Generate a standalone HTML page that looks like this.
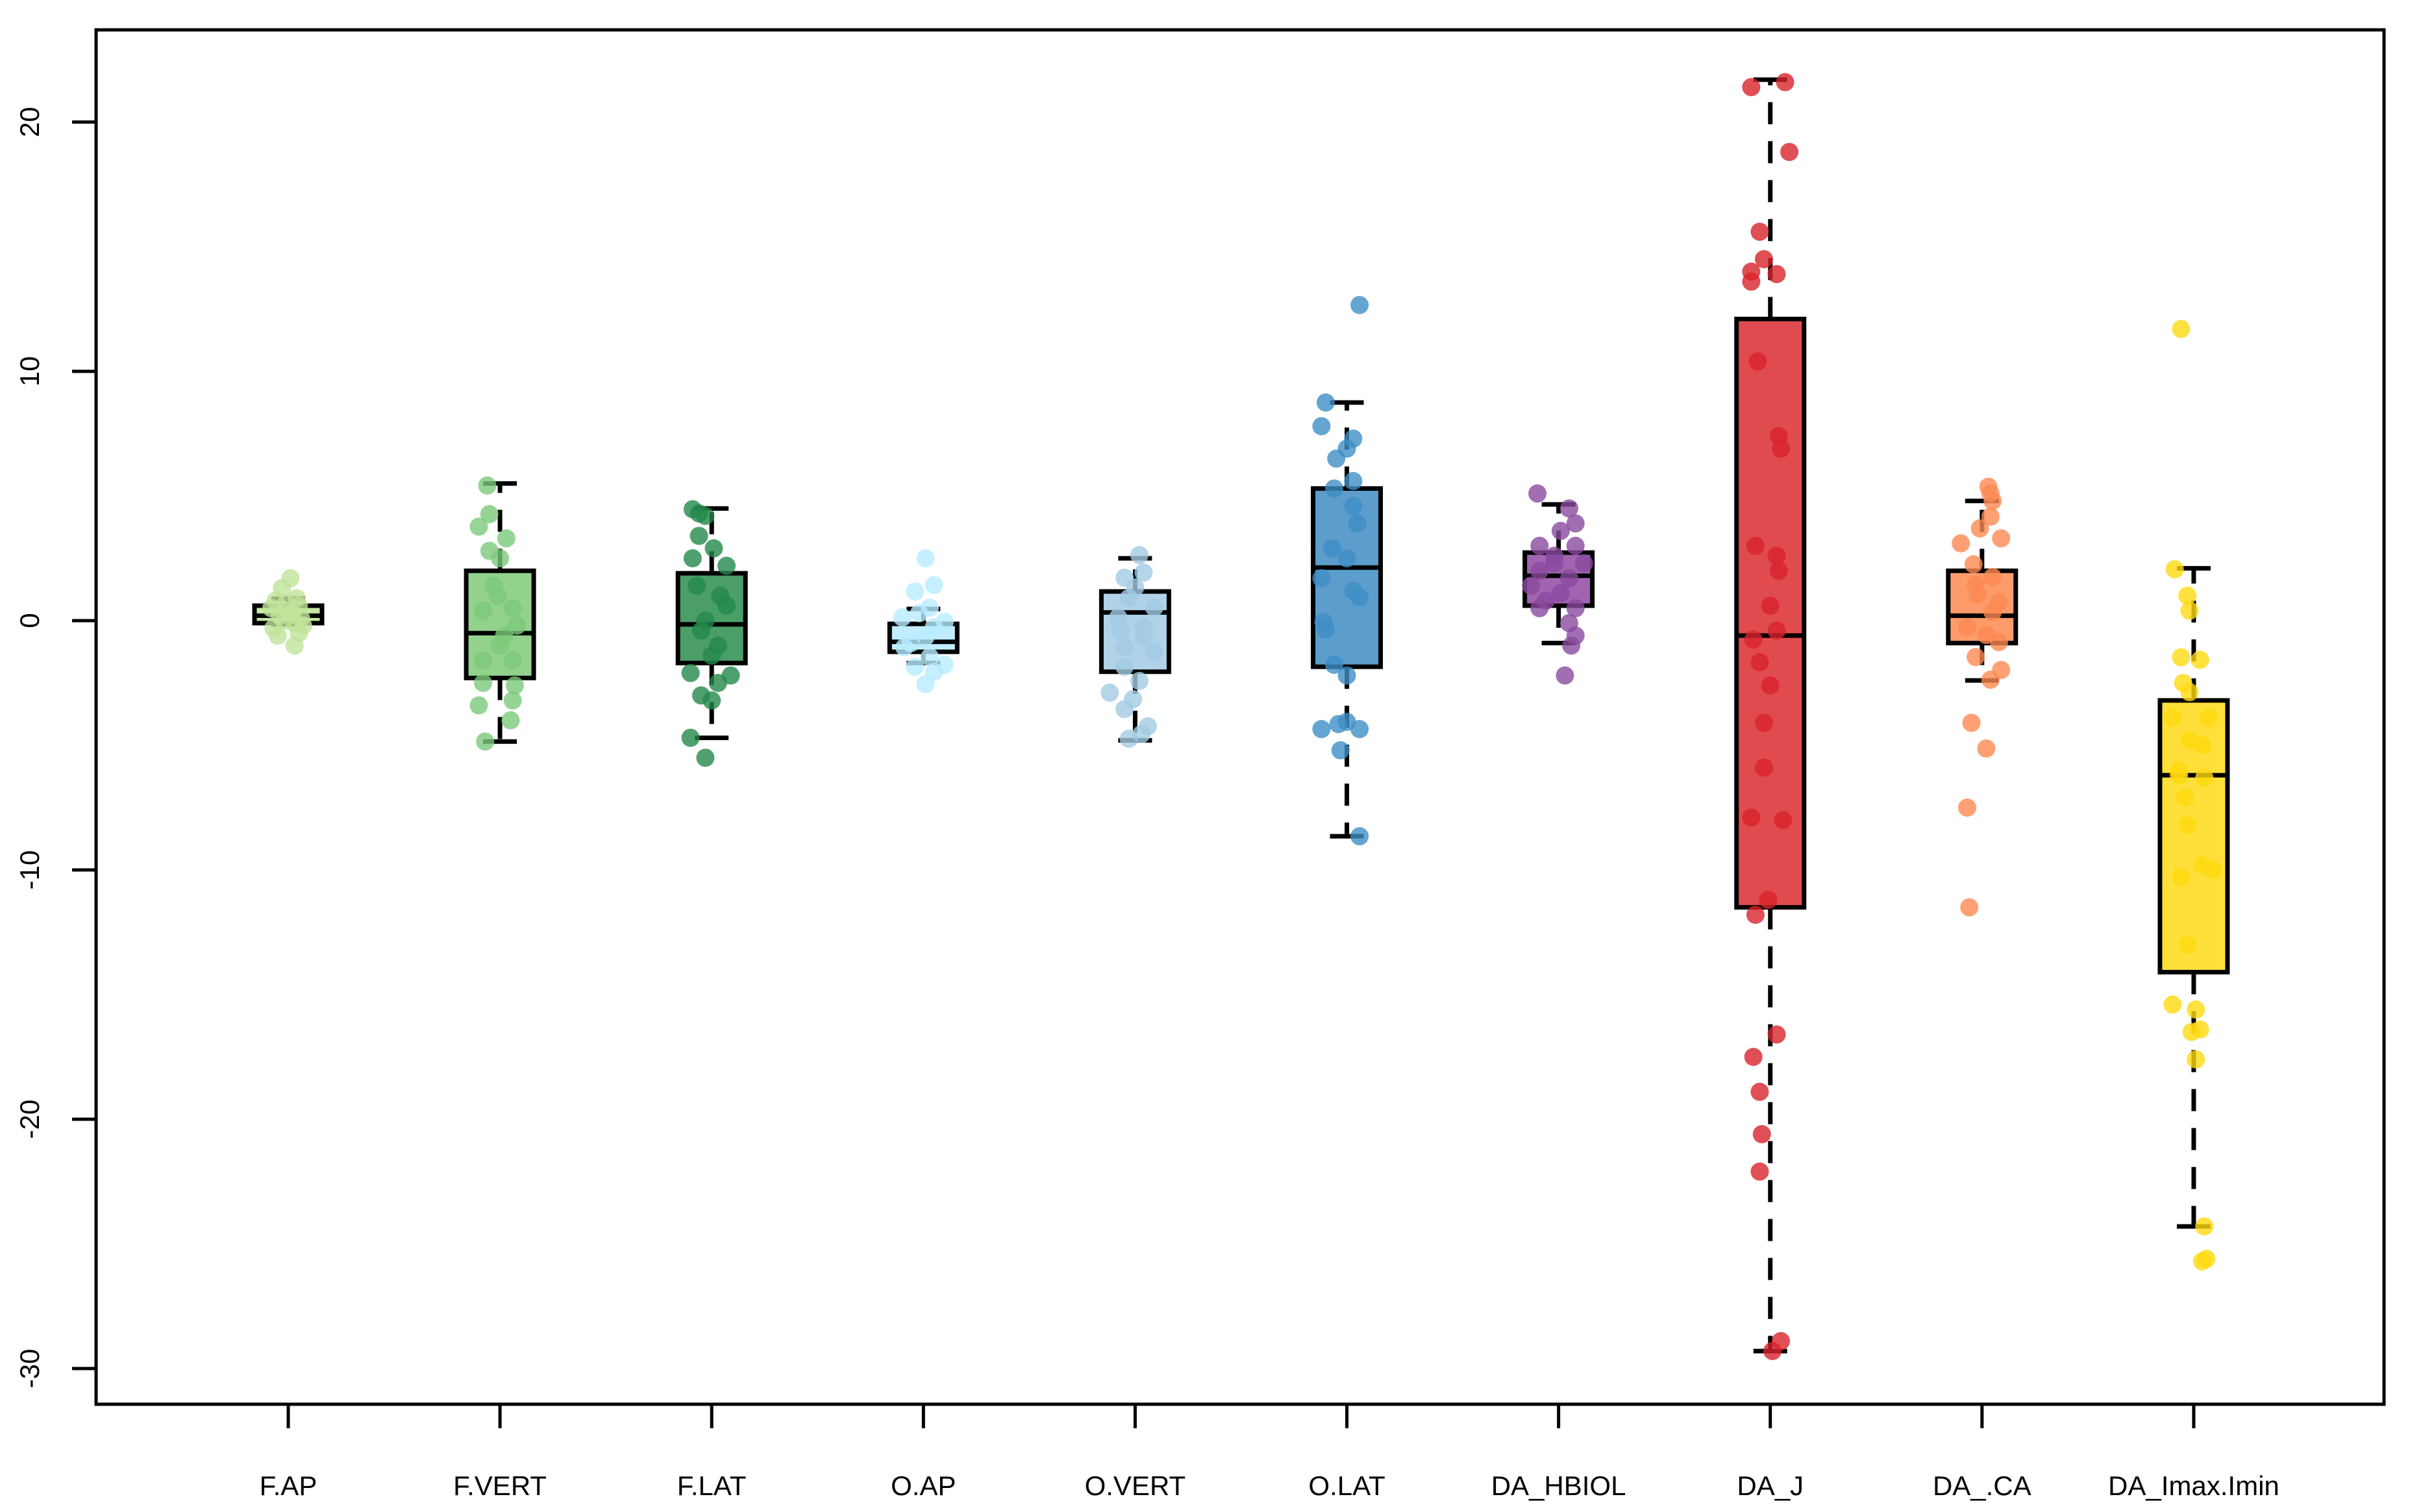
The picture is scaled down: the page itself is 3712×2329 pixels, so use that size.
<!DOCTYPE html>
<html><head><meta charset="utf-8"><style>
html,body{margin:0;padding:0;background:#fff;}
svg{display:block;}
text{font-family:"Liberation Sans",sans-serif;fill:#000;}
</style></head><body>
<svg id="chart" width="3712" height="2329" viewBox="0 0 3712 2329" xmlns="http://www.w3.org/2000/svg">
<rect x="148" y="46" width="3524" height="2117" fill="none" stroke="#000" stroke-width="5"/>
<g id="yaxis"></g>
<g id="xaxis"></g>
<g id="boxes"></g>
<g id="points"></g>
</svg>
<script>
const categories = ["F.AP","F.VERT","F.LAT","O.AP","O.VERT","O.LAT","DA_HBIOL","DA_J","DA_.CA","DA_Imax.Imin"];
const pointColors = ["#bfe39a","#7cc97a","#23884a","#b8ecff","#a2cbe2","#3f8ec6","#8a4a9f","#d8232a","#fd8a52","#ffd90f"];
const boxColors = ["#c7e8a3","#92d28d","#4b9e67","#c0eeff","#b0d3e8","#5c9dcb","#a064b0","#e04b4f","#fd9c6a","#ffe03a"];
const whiskerLow = [-0.15,-4.85,-4.7,-1.7,-4.8,-8.65,-0.9,-29.3,-2.4,-24.3];
const q1 = [-0.1,-2.3,-1.7,-1.25,-2.05,-1.85,0.6,-11.5,-0.9,-14.1];
const median = [0.2,-0.5,-0.15,-0.85,0.33,2.13,1.8,-0.6,0.2,-6.2];
const q3 = [0.6,2.0,1.9,-0.13,1.17,5.3,2.73,12.1,2.0,-3.2];
const whiskerHigh = [0.88,5.5,4.5,0.47,2.5,8.75,4.66,21.7,4.8,2.1];
const yTicks = [20,10,0,-10,-20,-30];
const yTickLabels = ["20","10","0","-10","-20","-30"];
const pts0 = [1.7,1.3,0.9,0.8,0.6,0.5,0.3,0.2,0.1,0,-0.1,-0.3,-0.5,-0.6,-1.0,0.4,0.7,-0.2];
const jit0 = [0.01,-0.03,0.04,-0.06,0.05,-0.08,0.02,-0.04,0.06,-0.02,0.03,-0.07,0.05,-0.05,0.03,0.0,-0.01,0.07];
const pts1 = [5.42,4.27,3.77,3.3,2.8,2.5,1.4,0.4,0.5,-0.2,-1.0,-1.6,-1.6,-2.5,-2.6,-3.2,-3.4,-4.0,-4.85,-0.6,1.0];
const jit1 = [-0.06,-0.05,-0.1,0.03,-0.05,0.0,-0.03,-0.08,0.06,0.08,0.0,-0.08,0.06,-0.08,0.07,0.06,-0.1,0.05,-0.07,0.02,-0.01];
const pts2 = [4.47,4.2,3.4,2.9,2.5,2.2,1.4,0.6,0,-0.4,-1.0,-1.4,-2.1,-2.2,-2.5,-3.0,-3.2,-4.7,-5.5,4.3,1.0];
const jit2 = [-0.09,-0.03,-0.06,0.01,-0.09,0.07,-0.07,0.07,-0.03,-0.05,0.03,0.0,-0.1,0.09,0.03,-0.05,0.0,-0.1,-0.03,-0.06,0.04];
const pts3 = [2.5,1.43,1.17,0.52,0.13,-0.05,-0.65,-1.07,-1.46,-1.77,-1.85,-2.06,-2.55,-0.26,-0.9,0.3];
const jit3 = [0.01,0.05,-0.04,0.03,-0.1,0.1,0.01,-0.09,0.03,0.1,-0.04,0.05,0.01,0.05,-0.06,-0.02];
const pts4 = [2.63,1.93,1.72,1.33,0.52,0.13,-0.26,-1.07,-1.25,-1.85,-2.42,-2.89,-3.15,-3.55,-4.24,-4.74,-4.55,-0.65,0.9,-0.4];
const jit4 = [0.02,0.04,-0.05,0.0,0.09,-0.08,0.04,-0.05,0.09,-0.05,0.02,-0.12,-0.01,-0.05,0.06,-0.03,0.03,0.04,-0.03,-0.07];
const pts5 = [12.66,8.75,7.8,7.3,6.9,6.5,5.6,5.3,4.6,3.9,2.9,2.5,1.7,1.2,0.94,-0.05,-0.36,-1.77,-2.2,-4.35,-4.06,-4.35,-4.15,-5.2,-8.65];
const jit5 = [0.06,-0.1,-0.12,0.03,0.0,-0.05,0.03,-0.06,0.03,0.05,-0.07,0.0,-0.12,0.03,0.06,-0.11,-0.1,-0.06,0.0,-0.12,0.0,0.06,-0.04,-0.03,0.06];
const pts6 = [5.1,4.5,3.9,3.6,3.0,3.0,2.3,2.0,1.7,1.4,1.1,0.8,0.5,0.5,-0.1,-0.6,-1.0,-2.2,2.6,2.3];
const jit6 = [-0.1,0.05,0.08,0.01,-0.09,0.08,-0.02,-0.09,0.05,-0.13,0.01,-0.06,0.08,-0.09,0.05,0.08,0.06,0.03,-0.02,0.12];
const pts7 = [21.4,21.6,18.8,15.6,14.5,14.0,13.9,13.6,10.4,7.4,6.9,3.0,2.6,2.0,0.6,-0.4,-0.76,-1.67,-2.6,-4.1,-5.9,-7.9,-8.0,-11.2,-11.8,-16.6,-17.5,-18.9,-20.6,-22.1,-28.9,-29.3];
const jit7 = [-0.09,0.07,0.09,-0.05,-0.03,-0.09,0.03,-0.09,-0.06,0.04,0.05,-0.07,0.03,0.04,0.0,0.03,-0.08,-0.05,0.0,-0.03,-0.03,-0.09,0.06,-0.01,-0.07,0.03,-0.08,-0.05,-0.04,-0.05,0.05,0.01];
const pts8 = [5.37,5.1,4.8,4.17,3.7,3.3,3.1,2.26,1.75,1.45,1.04,0.75,0.34,-0.26,-0.57,-0.86,-1.46,-1.98,-2.37,-4.1,-5.13,-7.5,-11.5];
const jit8 = [0.03,0.04,0.05,0.04,-0.01,0.09,-0.1,-0.04,0.05,-0.03,-0.02,0.08,0.05,-0.07,0.02,0.08,-0.03,0.09,0.04,-0.05,0.02,-0.07,-0.06];
const pts9 = [11.7,2.06,1.0,0.4,-1.47,-1.57,-2.5,-2.87,-3.9,-3.9,-4.8,-5.0,-6.0,-6.3,-6.2,-7.1,-8.2,-9.8,-10.0,-10.3,-13.0,-15.4,-15.6,-16.4,-16.5,-17.6,-24.3,-25.7,-25.6];
const jit9 = [-0.06,-0.09,-0.03,-0.02,-0.06,0.03,-0.05,-0.02,-0.1,0.07,-0.02,0.04,-0.07,0.05,-0.07,-0.04,-0.03,0.04,0.09,-0.06,-0.03,-0.1,0.01,0.03,-0.01,0.01,0.05,0.04,0.06];
const allPts = [pts0,pts1,pts2,pts3,pts4,pts5,pts6,pts7,pts8,pts9];
const allJit = [jit0,jit1,jit2,jit3,jit4,jit5,jit6,jit7,jit8,jit9];

const NS = "http://www.w3.org/2000/svg";
const X0 = 444, XSTEP = 326.1, Y0 = 956, YPX = 38.4;
function xScale(i){ return X0 + XSTEP*i; }
function yScale(v){ return Y0 - YPX*v; }
function mk(tag, attrs, parent){
  const e = document.createElementNS(NS, tag);
  for (const k in attrs) e.setAttribute(k, attrs[k]);
  parent.appendChild(e);
  return e;
}
const yaxis = document.getElementById('yaxis');
const xaxis = document.getElementById('xaxis');
const boxes = document.getElementById('boxes');
const points = document.getElementById('points');

yTicks.forEach((t, i) => {
  const y = yScale(t);
  const ln = mk('line', {x1:111, x2:148, y1:y, y2:y, stroke:'#000', 'stroke-width':5}, yaxis);
  
  
  const tx = mk('text', {x:0, y:0, 'font-size':42, 'text-anchor':'middle', transform:`translate(60,${y}) rotate(-90)`}, yaxis);
  tx.textContent = yTickLabels[i];
  
  
});

categories.forEach((c, i) => {
  const x = xScale(i);
  const ln = mk('line', {x1:x, x2:x, y1:2163, y2:2200, stroke:'#000', 'stroke-width':5}, xaxis);
  
  
  const tx = mk('text', {x:x, y:2303, 'font-size':42, 'text-anchor':'middle'}, xaxis);
  tx.textContent = c;
  
  

  const hw = 52, cw = 26;
  const g = mk('g', {}, boxes);
  
  
  mk('line', {x1:x, x2:x, y1:yScale(q3[i]), y2:yScale(whiskerHigh[i]), stroke:'#000', 'stroke-width':7, 'stroke-dasharray':'34 26'}, g);
  mk('line', {x1:x, x2:x, y1:yScale(q1[i]), y2:yScale(whiskerLow[i]), stroke:'#000', 'stroke-width':7, 'stroke-dasharray':'34 26'}, g);
  mk('line', {x1:x-cw, x2:x+cw, y1:yScale(whiskerHigh[i]), y2:yScale(whiskerHigh[i]), stroke:'#000', 'stroke-width':7}, g);
  mk('line', {x1:x-cw, x2:x+cw, y1:yScale(whiskerLow[i]), y2:yScale(whiskerLow[i]), stroke:'#000', 'stroke-width':7}, g);
  mk('rect', {x:x-hw, y:yScale(q3[i]), width:2*hw, height:yScale(q1[i])-yScale(q3[i]), fill:boxColors[i], stroke:'#000', 'stroke-width':7}, g);
  mk('line', {x1:x-hw, x2:x+hw, y1:yScale(median[i]), y2:yScale(median[i]), stroke:'#000', 'stroke-width':7}, g);

  allPts[i].forEach((v, j) => {
    const p = mk('circle', {cx:x + allJit[i][j]*XSTEP, cy:yScale(v), r:14, fill:pointColors[i], 'fill-opacity':0.8}, points);
    
    
  });
});
</script>
</body></html>
